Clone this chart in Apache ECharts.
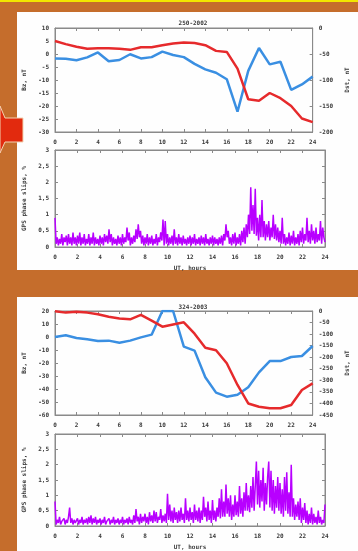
<!DOCTYPE html>
<html>
<head>
<meta charset="utf-8">
<script src="https://cdn.jsdelivr.net/npm/echarts@6/dist/echarts.min.js"></script>
<style>
  html, body { margin: 0; padding: 0; background: #c56d2c; }
  #chart { width: 358px; height: 551px; }
</style>
</head>
<body>
<div id="chart"></div>
<script>
// event titles
const titles = ['250-2002', '324-2003']

// hourly Bz (nT) and Dst (nT), 0..24 UT
const bz2002 = [-1.7, -1.8, -2.4, -1.3, 0.6, -2.8, -2.3, -0.1, -1.7, -1.2, 0.9, -0.4, -1.2,
  -3.8, -5.9, -7.2, -9.7, -22.2, -6.5, 2.3, -4.0, -3.0, -13.8, -11.7, -8.7]
const dst2002 = [-25, -31, -36, -40, -39, -39, -40, -42, -37, -37, -33, -30, -28,
  -29, -33, -44, -46, -78, -137, -140, -125, -135, -150, -174, -181]
const bz2003 = [0, 1.3, -0.8, -1.8, -3.1, -2.8, -4.4, -2.8, -0.3, 1.8, 20, 20, -7.4,
  -10.5, -31, -42.8, -45.9, -44.4, -38.7, -27.2, -18.5, -18.5, -15.4, -14.6, -6.9]
const dst2003 = [-1, -7, -3, -7, -14, -25, -32, -36, -17, -42, -68, -58, -49,
  -98, -159, -170, -226, -320, -400, -414, -421, -421, -407, -342, -313]

// GPS phase slips (%), every 0.1 h from 0 to 24 UT
const slips2002 = [
  0.9, 0.1, 0.3, 0.05, 0.25, 0.1, 0.4, 0.05, 0.3, 0.15,
  0.35, 0.05, 0.4, 0.1, 0.3, 0.05, 0.45, 0.1, 0.3, 0.05,
  0.35, 0.1, 0.45, 0.05, 0.3, 0.1, 0.4, 0.05, 0.25, 0.1,
  0.4, 0.05, 0.3, 0.1, 0.45, 0.05, 0.3, 0.1, 0.25, 0.05,
  0.35, 0.1, 0.3, 0.05, 0.4, 0.15, 0.35, 0.1, 0.55, 0.15,
  0.4, 0.05, 0.3, 0.1, 0.25, 0.05, 0.35, 0.1, 0.3, 0.05,
  0.4, 0.1, 0.3, 0.15, 0.6, 0.2, 0.45, 0.05, 0.3, 0.1,
  0.35, 0.15, 0.55, 0.25, 0.7, 0.3, 0.5, 0.1, 0.35, 0.05,
  0.3, 0.1, 0.4, 0.05, 0.3, 0.1, 0.35, 0.05, 0.25, 0.1,
  0.4, 0.05, 0.3, 0.15, 0.45, 0.2, 0.85, 0.05, 0.8, 0.1,
  0.4, 0.05, 0.3, 0.1, 0.35, 0.05, 0.55, 0.1, 0.3, 0.05,
  0.4, 0.1, 0.3, 0.05, 0.35, 0.1, 0.25, 0.05, 0.3, 0.1,
  0.35, 0.05, 0.3, 0.1, 0.4, 0.05, 0.25, 0.1, 0.3, 0.05,
  0.35, 0.1, 0.3, 0.05, 0.4, 0.1, 0.25, 0.05, 0.3, 0.1,
  0.35, 0.05, 0.3, 0.1, 0.25, 0.05, 0.3, 0.1, 0.35, 0.05,
  0.4, 0.2, 0.7, 0.3, 0.5, 0.1, 0.3, 0.05, 0.4, 0.1,
  0.45, 0.05, 0.3, 0.1, 0.4, 0.05, 0.5, 0.15, 0.6, 0.1,
  0.7, 0.3, 1.0, 0.4, 1.85, 0.5, 1.3, 0.4, 1.8, 0.35,
  0.9, 0.2, 1.0, 0.3, 1.45, 0.3, 0.8, 0.2, 0.7, 0.3,
  0.8, 0.2, 0.6, 0.3, 1.0, 0.25, 0.7, 0.2, 0.6, 0.15,
  0.5, 0.1, 0.9, 0.1, 0.4, 0.05, 0.3, 0.1, 0.45, 0.05,
  0.35, 0.1, 0.5, 0.05, 0.3, 0.1, 0.4, 0.05, 0.5, 0.15,
  0.6, 0.1, 0.4, 0.2, 0.9, 0.15, 0.5, 0.1, 0.7, 0.2,
  0.5, 0.1, 0.6, 0.15, 0.4, 0.2, 0.8, 0.1, 0.6, 0.3,
  0.15
]
const slips2003 = [
  0.8, 0.05, 0.2, 0.1, 0.3, 0.05, 0.15, 0.1, 0.25, 0.05,
  0.2, 0.1, 0.3, 0.6, 0.1, 0.25, 0.05, 0.2, 0.1, 0.15,
  0.25, 0.05, 0.2, 0.1, 0.3, 0.05, 0.2, 0.1, 0.25, 0.05,
  0.3, 0.1, 0.35, 0.05, 0.25, 0.1, 0.3, 0.05, 0.2, 0.1,
  0.25, 0.05, 0.2, 0.1, 0.3, 0.05, 0.15, 0.1, 0.25, 0.05,
  0.2, 0.1, 0.3, 0.05, 0.2, 0.1, 0.25, 0.05, 0.2, 0.1,
  0.3, 0.05, 0.2, 0.1, 0.25, 0.05, 0.3, 0.1, 0.2, 0.05,
  0.35, 0.1, 0.55, 0.15, 0.3, 0.05, 0.4, 0.1, 0.3, 0.15,
  0.4, 0.1, 0.3, 0.05, 0.45, 0.15, 0.35, 0.1, 0.5, 0.15,
  0.45, 0.1, 0.3, 0.2, 0.55, 0.1, 0.35, 0.15, 0.4, 0.1,
  1.05, 0.2, 0.7, 0.15, 0.5, 0.1, 0.6, 0.2, 0.45, 0.1,
  0.5, 0.15, 0.6, 0.2, 0.4, 0.1, 0.9, 0.2, 0.5, 0.15,
  0.6, 0.2, 0.45, 0.1, 0.7, 0.2, 0.5, 0.15, 0.6, 0.1,
  0.5, 0.2, 0.95, 0.3, 0.6, 0.15, 0.8, 0.2, 0.5, 0.1,
  0.85, 0.2, 0.5, 0.15, 0.6, 0.3, 0.9, 0.25, 1.2, 0.3,
  0.8, 0.3, 1.35, 0.4, 0.9, 0.3, 1.0, 0.2, 0.7, 0.3,
  1.0, 0.35, 0.8, 0.3, 1.3, 0.4, 0.9, 0.3, 1.1, 0.5,
  1.4, 0.5, 1.0, 0.45, 1.3, 0.6, 1.6, 0.5, 1.3, 2.1,
  0.7, 1.8, 0.6, 1.5, 0.8, 1.9, 0.5, 1.4, 0.7, 1.6,
  2.1, 0.6, 1.8, 0.5, 1.5, 0.4, 1.3, 0.6, 1.6, 0.5,
  1.4, 0.4, 1.2, 0.3, 1.6, 0.5, 1.75, 0.4, 1.1, 0.3,
  2.0, 0.3, 0.9, 0.2, 0.7, 0.3, 0.8, 0.2, 0.9, 0.1,
  0.6, 0.2, 0.75, 0.1, 0.5, 0.05, 0.4, 0.1, 0.6, 0.05,
  0.4, 0.1, 0.3, 0.05, 0.5, 0.1, 0.3, 0.05, 0.2, 0.1,
  0.7
]

const RED = '#e62a2c'
const BLUE = '#3a8fe2'
const PURPLE = '#b800ff'
const AXIS = '#8a8a8a'
const FONT = { fontSize: 6, fontWeight: 'bold', color: '#3a3a3a', fontFamily: 'DejaVu Sans Mono' }

const hourly = (arr) => arr.map((v, i) => [i, v])
const tenth = (arr) => arr.map((v, i) => [i / 10, v])
const comma = (v) => String(v).replace('.', ',')

const grids = [
  { left: 55, top: 28, width: 270, height: 104 },
  { left: 55, top: 150, width: 270, height: 97 },
  { left: 55, top: 311, width: 270, height: 104 },
  { left: 55, top: 434, width: 270, height: 96 },
].map((g) => ({ ...g, show: true, borderColor: AXIS, borderWidth: 1, backgroundColor: 'transparent' }))

const tick = { show: true, inside: true, length: 3, lineStyle: { color: AXIS } }
const line = { show: true, onZero: false, lineStyle: { color: AXIS, width: 1 } }

const xAxes = []
grids.forEach((g, i) => {
  const lower = i % 2 === 1
  xAxes.push({
    type: 'value', gridIndex: i, position: 'bottom', min: 0, max: 24, interval: 2,
    axisLine: line, axisTick: tick, splitLine: { show: false },
    axisLabel: { ...FONT, margin: 7 },
    name: lower ? 'UT, hours' : '', nameLocation: 'middle', nameGap: 18,
    nameTextStyle: FONT,
  })
  xAxes.push({
    type: 'value', gridIndex: i, position: 'top', min: 0, max: 24, interval: 2,
    axisLine: line, axisTick: tick, splitLine: { show: false }, axisLabel: { show: false },
  })
})

const yAxes = [
  // 2002 upper
  { gridIndex: 0, position: 'left', min: -30, max: 10, interval: 5, name: 'Bz, nT', nameGap: 25 },
  { gridIndex: 0, position: 'right', min: -200, max: 0, interval: 50, name: 'Dst, nT', nameGap: 26 },
  // 2002 lower
  { gridIndex: 1, position: 'left', min: 0, max: 3, interval: 0.5, name: 'GPS phase slips, %', nameGap: 25, fmt: comma },
  { gridIndex: 1, position: 'right', min: 0, max: 3, interval: 0.5, noLabel: true },
  // 2003 upper
  { gridIndex: 2, position: 'left', min: -60, max: 20, interval: 10, name: 'Bz, nT', nameGap: 25 },
  { gridIndex: 2, position: 'right', min: -450, max: 0, interval: 50, name: 'Dst, nT', nameGap: 26 },
  // 2003 lower
  { gridIndex: 3, position: 'left', min: 0, max: 3, interval: 0.5, name: 'GPS phase slips, %', nameGap: 25, fmt: comma },
  { gridIndex: 3, position: 'right', min: 0, max: 3, interval: 0.5, noLabel: true },
].map((a) => ({
  type: 'value', gridIndex: a.gridIndex, position: a.position, min: a.min, max: a.max, interval: a.interval,
  axisLine: line, axisTick: tick, splitLine: { show: false },
  axisLabel: a.noLabel ? { show: false } : { ...FONT, margin: 6, formatter: a.fmt },
  name: a.name || '', nameLocation: 'middle', nameGap: a.nameGap, nameRotate: 90, nameTextStyle: FONT,
}))

const lineSeries = (data, xi, yi, color, width) => ({
  type: 'line', data, xAxisIndex: xi, yAxisIndex: yi, symbol: 'none', clip: true,
  lineStyle: { color, width }, animation: false,
})

const chart = echarts.init(document.getElementById('chart'), null, { renderer: 'canvas' })
chart.setOption({
  animation: false,
  backgroundColor: '#c56d2c',
  title: [
    { text: titles[0], left: 188, top: 15, textAlign: 'center', textStyle: FONT },
    { text: titles[1], left: 188, top: 299, textAlign: 'center', textStyle: FONT },
  ],
  graphic: [
    { type: 'rect', shape: { x: 0, y: 0, width: 358, height: 2 }, style: { fill: '#f2e600' }, z: -10 },
    { type: 'rect', shape: { x: 17, y: 12, width: 341, height: 258 }, style: { fill: '#fefefe' }, z: -10 },
    { type: 'rect', shape: { x: 17, y: 297, width: 341, height: 254 }, style: { fill: '#fefefe' }, z: -10 },
    {
      type: 'polygon', z: 100,
      shape: { points: [[0, 106], [5, 118], [23, 118], [23, 142], [5, 142], [0, 153]] },
      style: { fill: '#e22a0e', stroke: '#f2d2b0', lineWidth: 1 },
    },
  ],
  grid: grids,
  xAxis: xAxes,
  yAxis: yAxes,
  series: [
    lineSeries(hourly(bz2002), 0, 0, BLUE, 2.5),
    lineSeries(hourly(dst2002), 0, 1, RED, 2.5),
    lineSeries(tenth(slips2002), 2, 2, PURPLE, 1.5),
    lineSeries(hourly(bz2003), 4, 4, BLUE, 2.5),
    lineSeries(hourly(dst2003), 4, 5, RED, 2.5),
    lineSeries(tenth(slips2003), 6, 6, PURPLE, 1.5),
  ],
})
</script>
</body>
</html>
